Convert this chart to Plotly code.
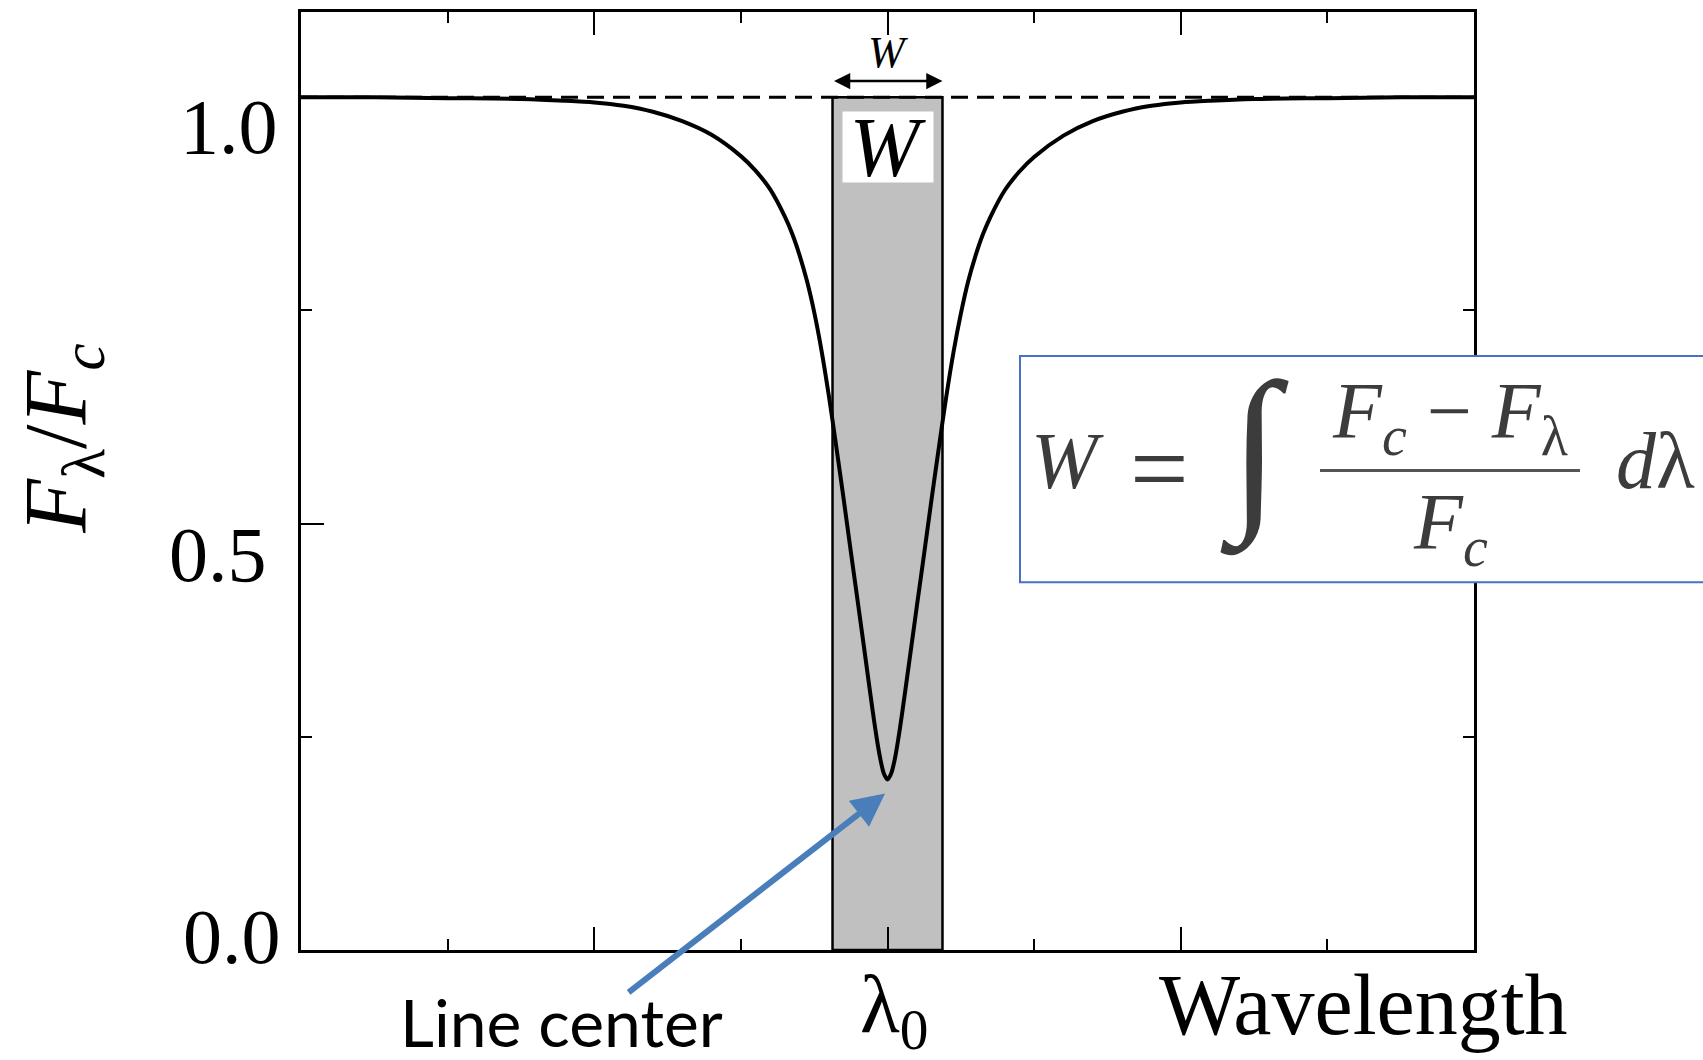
import plotly.graph_objects as go

# ---------------- data ----------------
wavelength = [-4.0, -3.5, -3.0, -2.5, -2.2, -2.0, -1.8, -1.6, -1.4, -1.2, -1.0, -0.9, -0.8,
              -0.7, -0.65, -0.6, -0.55, -0.5, -0.45, -0.4, -0.35, -0.3, -0.25, -0.2, -0.15,
              -0.1, -0.075, -0.05, -0.025, 0.0, 0.025, 0.05, 0.075, 0.1, 0.15, 0.2, 0.25,
              0.3, 0.35, 0.4, 0.45, 0.5, 0.55, 0.6, 0.65, 0.7, 0.8, 0.9, 1.0, 1.2, 1.4,
              1.6, 1.8, 2.0, 2.2, 2.5, 3.0, 3.5, 4.0]
flux_ratio = [1.000, 1.000, 0.999, 0.998, 0.996, 0.994, 0.990, 0.983, 0.972, 0.956, 0.931, 0.914, 0.892,
              0.860, 0.840, 0.815, 0.785, 0.748, 0.703, 0.650, 0.591, 0.530, 0.467, 0.405, 0.342,
              0.279, 0.250, 0.225, 0.207, 0.200, 0.207, 0.224, 0.249, 0.278, 0.340, 0.403, 0.465,
              0.528, 0.589, 0.648, 0.701, 0.746, 0.784, 0.814, 0.839, 0.859, 0.891, 0.913, 0.930, 0.955, 0.972,
              0.983, 0.990, 0.994, 0.996, 0.998, 0.999, 1.000, 1.000]
continuum = 1.0
line_center = 0.0
eq_width_edges = [-0.375, 0.375]

x_range = [-4, 4]
y_range = [0, 1.1]
y_tick_values = [1.0, 0.5, 0.0]
y_tick_labels = ["1.0", "0.5", "0.0"]

SERIF = "Liberation Serif"
fig = go.Figure()

# continuum (dashed)
fig.add_trace(go.Scatter(x=x_range, y=[continuum, continuum], mode="lines",
                         line=dict(color="black", width=3, dash="17px,9px"),
                         hoverinfo="skip", showlegend=False))
# line profile
fig.add_trace(go.Scatter(x=wavelength, y=flux_ratio, mode="lines",
                         line=dict(color="black", width=4, shape="spline", smoothing=0.8),
                         showlegend=False))

# equivalent-width rectangle
fig.add_shape(type="rect", xref="x", yref="y", x0=eq_width_edges[0], x1=eq_width_edges[1],
              y0=0, y1=continuum, fillcolor="#c0c0c0", line=dict(color="black", width=2.5),
              layer="below")

# helper for paper coordinates in pixels
L, R, T, B = 301, 1474, 9, 950
def px(X):
    return (X - L) / (R - L)
def py(Y):
    return (B - Y) / (B - T)

# formula box
fig.add_shape(type="rect", xref="paper", yref="paper", x0=px(1020), x1=px(1712),
              y0=py(581), y1=py(354), fillcolor="white",
              line=dict(color="#4472C4", width=2), layer="above")
fig.add_shape(type="line", xref="paper", yref="paper", x0=px(1320), x1=px(1580),
              y0=py(469), y1=py(469), line=dict(color="#555555", width=3), layer="above")

ann = []
fc = "#3c3c3c"
fs = 80
def add_text(text, X, Y, size, color="black", family=SERIF, **kw):
    ann.append(dict(text=text, xref="paper", yref="paper", x=px(X), y=py(Y),
                    xanchor="center", yanchor="middle", showarrow=False,
                    font=dict(family=family, size=size, color=color), **kw))

add_text("<i>W</i>", 1067, 459, fs, fc)
add_text("=", 1159, 467, 104, fc)
add_text("∫", 1254, 450, 180, fc)
add_text("<i>F</i><sub><i>c</i></sub> − <i>F</i><sub>λ</sub>", 1450, 415, fs, fc)
add_text("<i>F</i><sub><i>c</i></sub>", 1450, 527, fs, fc)
add_text("<i>d</i>λ", 1655, 459, fs, fc)

# axis texts
add_text("Wavelength", 1363, 1005, 86)
add_text("λ<sub>0</sub>", 894, 1010, 82)
add_text("Line center", 561, 1022, 66, family="Lato")
add_text("<i>F</i><sub>λ</sub>/<i>F</i><sub><i>c</i></sub>", 62, 437, 88, textangle=-90)

# y tick labels
shifts = {"1.0": (-21, -29), "0.5": (-32, -31), "0.0": (-18, 14)}
for v, lab in zip(y_tick_values, y_tick_labels):
    xs, ys = shifts[lab]
    ann.append(dict(text=lab, xref="paper", yref="y", x=0, y=v, xanchor="right",
                    yanchor="middle", xshift=xs, yshift=ys, showarrow=False,
                    font=dict(family=SERIF, size=78, color="black")))

# W label with double arrow
ann.append(dict(text="<i>W</i>", xref="x", yref="y", x=line_center, y=1.053, showarrow=False,
                font=dict(family=SERIF, size=44, color="black")))
ann.append(dict(text="", xref="x", yref="y", axref="x", ayref="y",
                x=eq_width_edges[1], y=1.019, ax=eq_width_edges[0], ay=1.019,
                showarrow=True, arrowhead=2, startarrowhead=2, arrowside="end+start",
                arrowsize=1.3, startarrowsize=1.3, arrowwidth=2.5, arrowcolor="black"))
# W in white box
ann.append(dict(text="<i>W</i>", xref="x", yref="y", x=line_center, y=0.942, showarrow=False,
                width=88, height=68, bgcolor="white",
                font=dict(family=SERIF, size=84, color="black")))
# blue arrow to line center
ann.append(dict(text="", xref="x", yref="y", axref="x", ayref="y",
                x=-0.017, y=0.1835, ax=-1.776, ay=-0.051, showarrow=True,
                arrowhead=2, arrowsize=1.1, arrowwidth=6, arrowcolor="#4A7EBB", standoff=0))

fig.update_layout(
    width=1703, height=1060, margin=dict(l=L, r=1703 - R, t=T, b=1060 - B),
    paper_bgcolor="white", plot_bgcolor="white", annotations=ann,
    xaxis=dict(range=x_range, showgrid=False, zeroline=False, showticklabels=False,
               ticks="inside", tick0=0, dtick=2, ticklen=23, tickwidth=2, tickcolor="black",
               minor=dict(dtick=1, tick0=0, ticks="inside", ticklen=11, tickwidth=2, tickcolor="black"),
               showline=True, linecolor="black", linewidth=3, mirror="allticks"),
    yaxis=dict(range=y_range, showgrid=False, zeroline=False, showticklabels=False,
               ticks="inside", tick0=0, dtick=0.5, ticklen=23, tickwidth=2, tickcolor="black",
               minor=dict(dtick=0.25, tick0=0, ticks="inside", ticklen=11, tickwidth=2, tickcolor="black"),
               showline=True, linecolor="black", linewidth=3, mirror="allticks"),
)
fig.write_html("out.html")
